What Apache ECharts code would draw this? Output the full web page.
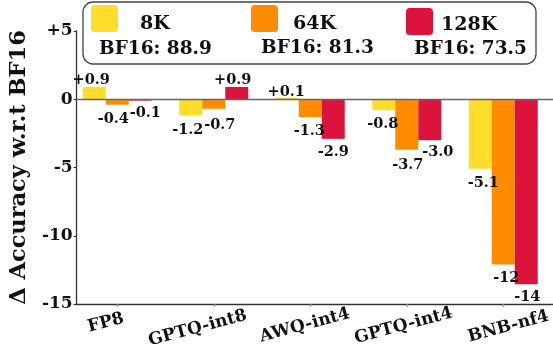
<!DOCTYPE html>
<html><head><meta charset="utf-8">
<style>html,body{margin:0;padding:0;background:#fff}#c{width:553px;height:354px}</style>
<script src="https://cdn.jsdelivr.net/npm/echarts@6/dist/echarts.min.js"></script>
</head><body><div id="c"></div>
<script>
const categories = ['FP8','GPTQ-int8','AWQ-int4','GPTQ-int4','BNB-nf4'];
const names = ['8K','64K','128K'];
const baselines = ['BF16: 88.9','BF16: 81.3','BF16: 73.5'];
const values8K = [0.9,-1.2,0.1,-0.8,-5.1];
const values64K = [-0.4,-0.7,-1.3,-3.7,-12.1];
const values128K = [-0.1,0.9,-2.9,-3.0,-13.55];
const yTicks = [5,0,-5,-10,-15];

const FONT = '"DejaVu Serif"';
const colors = ['#FFDD2B','#FF8C00','#DC143C'];
// label nudges [dx,dy] relative to the default outside-end position, per series / category
const nudges = [
  [[-3,3.5],[-3,4.5],[-1,4.5],[-1,3.5],[3,3.5]],
  [[-4,4.5],[6,5.5],[-1,3.5],[1,4.5],[3,3.5]],
  [[5,2.5],[-4,3.5],[0,2.5],[8,1.5],[1,2.5]]
];
// per-label axis text padding [top, right, bottom, left]
const labelPad = [[0,28,0,0],[4,40,0,0],[4,18,0,0],[5,14,0,0],[8,0,0,2]];
const fmt = v => v > 0 ? '+' + v.toFixed(1) : (Math.abs(v) >= 10 ? String(Math.round(v)) : v.toFixed(1));
const rich = {};
labelPad.forEach((p,i)=>{ rich['c'+i] = {fontFamily:FONT,fontWeight:'bold',fontSize:17,color:'#111',padding:p}; });

const series = [values8K,values64K,values128K].map((vals,si)=>({
  name:names[si], type:'bar', xAxisIndex:0, yAxisIndex:0, barWidth:23, barGap:'0%',
  itemStyle:{color:colors[si]},
  data:vals.map((v,ci)=>({value:v,label:{
    show:true, position:v>=0?'top':'bottom', distance:3, offset:nudges[si][ci],
    formatter:fmt(v), fontFamily:FONT, fontWeight:'bold', fontSize:14.5, color:'#111'
  }}))
}));

const swatch = 'path://M4,0H24Q28,0 28,4V24Q28,28 24,28H4Q0,28 0,24V4Q0,0 4,0Z';
const legendSpots = [[91,5,17,12],[251,5,10,12],[406,8,3,8]];

const chart = echarts.init(document.getElementById('c'),null,{renderer:'canvas'});
chart.setOption({
  animation:false, backgroundColor:'#fff',
  grid:[
    {left:69,top:31,width:490,height:273,containLabel:false},
    {left:72,top:31,width:481,height:273}
  ],
  xAxis:[
    {type:'category',gridIndex:0,data:categories,position:'bottom',
     axisLine:{show:false,onZero:false},
     axisTick:{show:true,alignWithLabel:true,length:3,lineStyle:{color:'#999',width:1.2}},
     axisLabel:{interval:0,rotate:15,margin:7,align:'center',verticalAlign:'top',
       formatter:(v,i)=>'{c'+i+'|'+v+'}',rich}},
    {type:'value',gridIndex:1,min:0,max:1,position:'bottom',
     axisLine:{show:true,onZero:false,lineStyle:{color:'#333',width:1.3}},
     axisTick:{show:false},axisLabel:{show:false},splitLine:{show:false}},
    {type:'value',gridIndex:1,min:0,max:1,position:'top',z:10,
     axisLine:{show:true,onZero:true,lineStyle:{color:'#666',width:1.3}},
     axisTick:{show:false},axisLabel:{show:false},splitLine:{show:false}}
  ],
  yAxis:[
    {type:'value',gridIndex:0,min:-15,max:5,show:false},
    {type:'value',gridIndex:1,min:-15,max:5,interval:5,
     axisLine:{show:true,onZero:false,lineStyle:{color:'#333',width:1.3}},
     axisTick:{show:true,length:3,lineStyle:{color:'#333',width:1.2}},
     splitLine:{show:false},
     axisLabel:{margin:4,fontFamily:FONT,fontWeight:'bold',fontSize:17,color:'#111',
       formatter:v=>yTicks.includes(v)?(v>0?'+'+v:String(v)):''},
     name:'\u0394 Accuracy w.r.t BF16',nameLocation:'middle',nameGap:45,nameRotate:90,
     nameTextStyle:{fontFamily:FONT,fontWeight:'bold',fontSize:22.5,color:'#111'}}
  ],
  legend:names.map((n,i)=>({data:[n],left:legendSpots[i][0],top:legendSpots[i][1],
    itemWidth:27,itemHeight:28,icon:swatch,selectedMode:false,itemGap:0,padding:0,
    formatter:'{n|{name}}',
    textStyle:{rich:{n:{fontFamily:FONT,fontWeight:'bold',fontSize:19,color:'#111',
      padding:[legendSpots[i][3],0,0,legendSpots[i][2]]}}}})),
  graphic:[
    {type:'rect',z:-1,shape:{x:83,y:2,width:453,height:62,r:10},style:{fill:'#fff',stroke:'#444',lineWidth:1.3}},
    ...baselines.map((t,i)=>({type:'text',z:5,x:[99,261,414][i],y:[39.5,38.5,39.5][i],
      style:{text:t,fill:'#111',font:'bold 18.5px '+FONT}}))
  ],
  series
});
</script></body></html>
